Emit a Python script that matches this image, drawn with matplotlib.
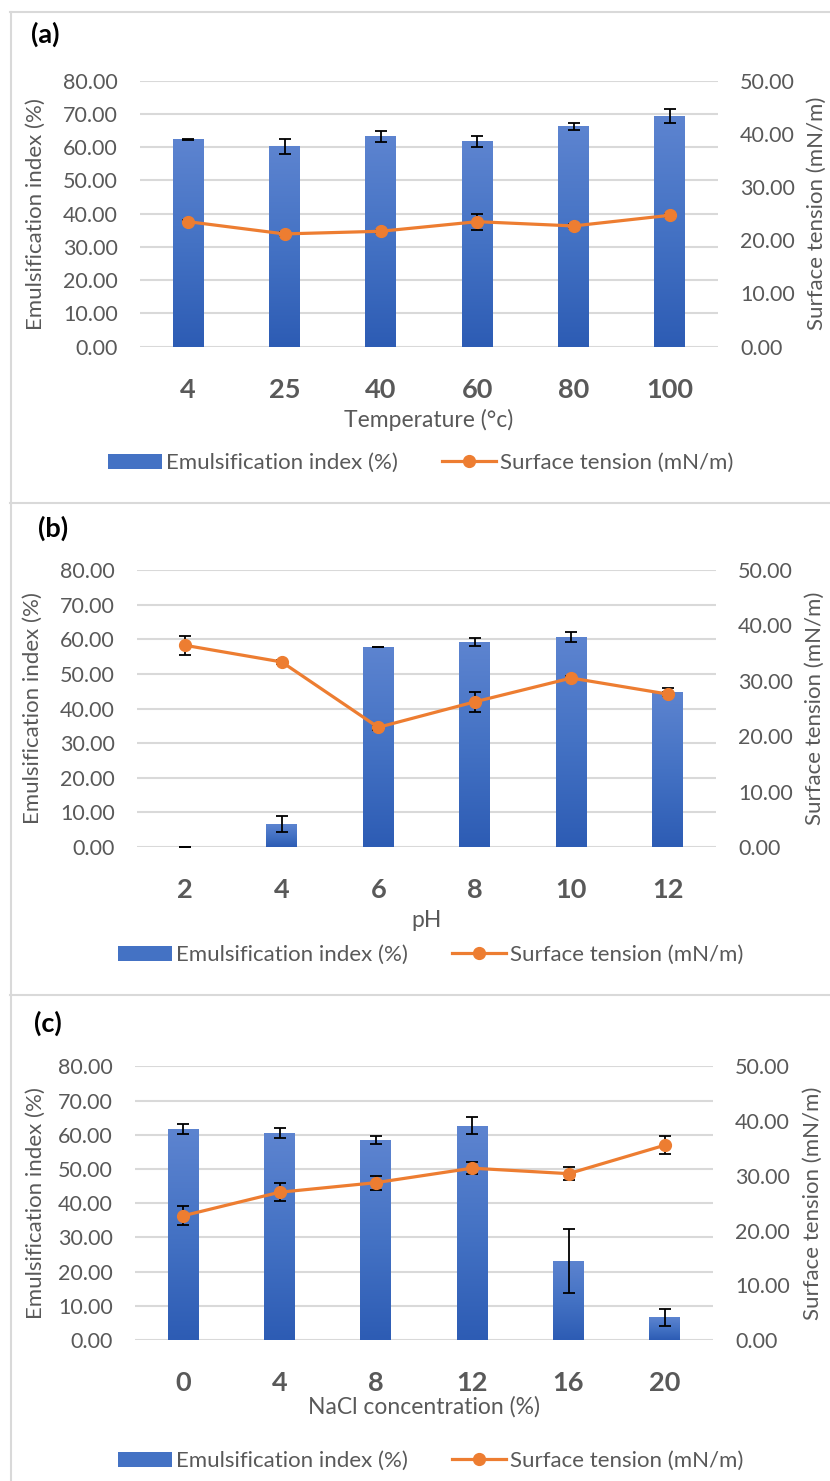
import numpy as np
import matplotlib
matplotlib.use('Agg')
import matplotlib.pyplot as plt
from matplotlib.colors import LinearSegmentedColormap
from matplotlib.patches import Patch
from matplotlib.lines import Line2D

# ---------------- data ----------------
temp_labels = ['4', '25', '40', '60', '80', '100']
temp_ei = [62.4, 60.3, 63.3, 61.8, 66.3, 69.3]
temp_ei_err = [0.1, 2.2, 1.6, 1.6, 1.1, 2.1]
temp_st = [23.5, 21.2, 21.7, 23.5, 22.7, 24.7]
temp_st_err = [0.3, 0.3, 0.3, 1.5, 0.3, 0.3]

ph_labels = ['2', '4', '6', '8', '10', '12']
ph_ei = [0.0, 6.6, 57.8, 59.2, 60.6, 44.9]
ph_ei_err = [0.0, 2.4, 0.1, 1.2, 1.5, 1.0]
ph_st = [36.4, 33.4, 21.6, 26.2, 30.5, 27.6]
ph_st_err = [1.75, 0.3, 0.5, 1.8, 0.4, 0.3]

nacl_labels = ['0', '4', '8', '12', '16', '20']
nacl_ei = [61.6, 60.5, 58.4, 62.6, 23.1, 6.7]
nacl_ei_err = [1.5, 1.5, 1.2, 2.5, 9.5, 2.5]
nacl_st = [22.7, 27.0, 28.75, 31.4, 30.4, 35.6]
nacl_st_err = [1.75, 1.65, 1.3, 1.05, 1.15, 1.7]

left_ticks = [0, 10, 20, 30, 40, 50, 60, 70, 80]
right_ticks = [0, 10, 20, 30, 40, 50]

ei_name = 'Emulsification index (%)'
st_name = 'Surface tension (mN/m)'

# ---------------- style ----------------
W, H = 830, 1481
DPI = 100
FONT = 'Lato'
GRAY = '#595959'
ORANGE = '#ED7D31'
GRID = '#D9D9D9'
bar_cmap = LinearSegmentedColormap.from_list('bar', ['#2D5CB4', '#4472C4', '#5D84D0'])

plt.rcParams['font.family'] = [FONT, 'DejaVu Sans']
fig = plt.figure(figsize=(W / DPI, H / DPI), dpi=DPI)


def fx(px):
    return px / W


def fy(px):
    return 1 - px / H


def panel(box, tag, tag_xy, labels, ei, ei_err, st, st_err, xlabel,
          xlab_y, ylab_x, ylab2_x, legend_xy):
    x0, y0, x1, y1 = box
    ax = fig.add_axes([fx(x0), fy(y1), fx(x1) - fx(x0), (y1 - y0) / H])
    ax2 = ax.twinx()
    x = np.arange(len(labels))

    bars = ax.bar(x, ei, width=0.32, color='none', edgecolor='none', zorder=2)
    grad = np.linspace(0, 1, 256).reshape(-1, 1)
    for b in bars:
        h = b.get_height()
        if h <= 0:
            continue
        bx = b.get_x()
        im = ax.imshow(grad, cmap=bar_cmap, origin='lower', aspect='auto',
                       extent=(bx, bx + b.get_width(), 0, h), zorder=2)
        im.set_clip_path(b)
    ax.errorbar(x, ei, yerr=ei_err, fmt='none', ecolor='black',
                elinewidth=1.3, capsize=4.5, capthick=1.3, zorder=3)

    ax.set_xlim(-0.5, len(labels) - 0.5)
    ax.set_ylim(0, 80)
    ax.set_yticks(left_ticks)
    ax.set_yticklabels([f'{v:.2f}' for v in left_ticks])
    ax.set_xticks(x)
    ax.set_xticklabels(labels)
    ax.yaxis.grid(True, color=GRID, lw=1.5)
    ax.set_axisbelow(True)
    ax.tick_params(axis='y', length=0, pad=16, labelsize=15.5, labelcolor=GRAY)
    ax.tick_params(axis='x', length=0, pad=29.5, labelsize=19.5, labelcolor=GRAY)
    for t in ax.get_xticklabels():
        t.set_fontweight('bold')
        t.set_va('center_baseline')

    ax2.set_ylim(0, 50)
    ax2.set_yticks(right_ticks)
    ax2.set_yticklabels([f'{v:.2f}' for v in right_ticks])
    ax2.tick_params(axis='y', length=0, pad=16, labelsize=15.5, labelcolor=GRAY)
    ax2.errorbar(x, st, yerr=st_err, fmt='none', ecolor='black',
                 elinewidth=1.3, capsize=4.5, capthick=1.3, zorder=3)
    ax2.plot(x, st, color=ORANGE, lw=2.3, marker='o', ms=8.5,
             mfc=ORANGE, mec=ORANGE, zorder=4)

    for a in (ax, ax2):
        for s in a.spines.values():
            s.set_visible(False)

    ax.set_xlabel(xlabel, fontsize=16.5, color=GRAY)
    ax.xaxis.label.set_va('center')
    ax.xaxis.set_label_coords(0.5, -(xlab_y - y1) / (y1 - y0))

    ax.set_ylabel(ei_name, fontsize=16, color=GRAY)
    ax.yaxis.label.set_va('center')
    ax.yaxis.set_label_coords((ylab_x - x0) / (x1 - x0), 0.5)
    ax2.set_ylabel(st_name, fontsize=16, color=GRAY)
    ax2.yaxis.label.set_va('center')
    ax2.yaxis.set_label_coords((ylab2_x - x0) / (x1 - x0), 0.5)

    fig.text(fx(tag_xy[0]), fy(tag_xy[1]), tag, fontsize=19.5, fontweight='bold',
             color='black', ha='left', va='center')

    handles = [Patch(facecolor='#4472C4', edgecolor='none'),
               Line2D([0], [0], color=ORANGE, lw=2.3, marker='o', ms=8.5,
                      mfc=ORANGE, mec=ORANGE)]
    leg = fig.legend(handles, [ei_name, st_name], loc='center',
                     bbox_to_anchor=(fx(legend_xy[0]), fy(legend_xy[1])),
                     ncol=2, frameon=False, fontsize=16, handlelength=2.4,
                     handleheight=0.65, handletextpad=0.2, columnspacing=2.0,
                     borderpad=0)
    for t in leg.get_texts():
        t.set_color(GRAY)
    return ax, ax2


panel((140, 80.7, 718, 346.7), '(a)', (31, 34), temp_labels, temp_ei, temp_ei_err,
      temp_st, temp_st_err, 'Temperature (°c)', 420, 36, 817, (421, 463))
panel((137, 570, 716, 847), '(b)', (38, 528), ph_labels, ph_ei, ph_ei_err,
      ph_st, ph_st_err, 'pH', 920, 33, 815, (431, 955))
panel((135, 1066.4, 713, 1340), '(c)', (34, 1023), nacl_labels, nacl_ei, nacl_ei_err,
      nacl_st, nacl_st_err, 'NaCl concentration (%)', 1407, 36, 813, (431, 1461))

# panel frames
for yy in (12, 503, 995):
    fig.add_artist(Line2D([fx(10), 1.0], [fy(yy), fy(yy)], color=GRID, lw=1.5,
                          transform=fig.transFigure))
fig.add_artist(Line2D([fx(10.5), fx(10.5)], [fy(12), 0.0], color=GRID, lw=1.5,
                      transform=fig.transFigure))

fig.savefig('out.png', dpi=DPI)
